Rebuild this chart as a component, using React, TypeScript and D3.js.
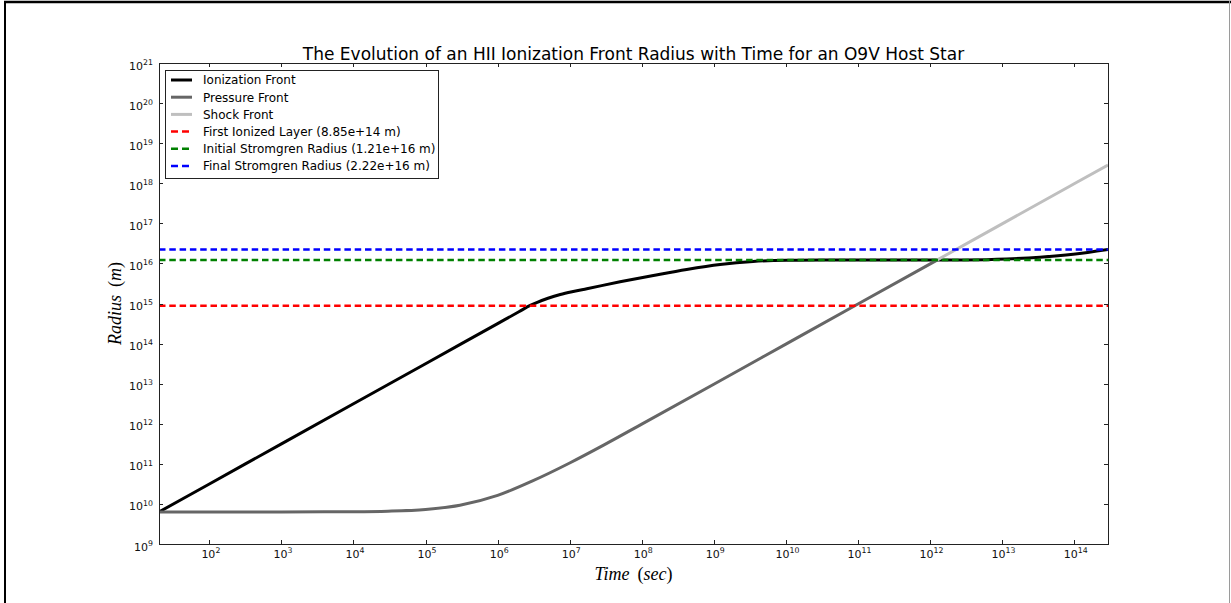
import React, { useEffect, useRef } from 'react';
import * as d3 from 'd3';

const WIDTH = 1231;
const HEIGHT = 603;

const TITLE = 'The Evolution of an HII Ionization Front Radius with Time for an O9V Host Star';

// Ionization front: time (s) and radius (m)
const ionTime = [20, 1e2, 1e3, 1e4, 1e5, 1e6, 2.0e6, 2.83e6, 3.55e6, 5.0e6, 7.4e6, 1.12e7, 1.73e7, 5.0e7, 1.45e8, 4.2e8, 1.22e9, 3.5e9, 1.03e10, 3.2e10, 1e11, 1e12, 3e12, 1.16e13, 3.35e13, 9.7e13, 2.95e14];
const ionRadius = [6.3e9, 3.15e10, 3.15e11, 3.15e12, 3.15e13, 3.15e14, 6.3e14, 8.95e14, 1.07e15, 1.35e15, 1.68e15, 2.0e15, 2.34e15, 3.47e15, 5.0e15, 7.08e15, 9.44e15, 1.122e16, 1.197e16, 1.21e16, 1.21e16, 1.21e16, 1.22e16, 1.29e16, 1.43e16, 1.69e16, 2.22e16];

// Pressure front
const pressureTime = [20, 1e3, 1e4, 3e4, 1e5, 3e5, 1e6, 3e6, 1e7, 3e7, 1e8, 1e9, 1e10, 1e11, 1.25e12];
const pressureRadius = [6.3e9, 6.3e9, 6.4e9, 6.6e9, 7.3e9, 9.3e9, 1.63e10, 3.7e10, 1.05e11, 2.97e11, 9.8e11, 9.7e12, 9.7e13, 9.7e14, 1.21e16];

// Shock front
const shockTime = [1.25e12, 1e13, 1e14, 2.95e14];
const shockRadius = [1.21e16, 9.7e16, 9.7e17, 2.86e18];

// Reference radii
const refLabels = ['First Ionized Layer (8.85e+14 m)', 'Initial Stromgren Radius (1.21e+16 m)', 'Final Stromgren Radius (2.22e+16 m)'];
const refValues = [8.85e14, 1.21e16, 2.22e16];
const refColors = ['#ff0000', '#008000', '#0000ff'];

const seriesLabels = ['Ionization Front', 'Pressure Front', 'Shock Front'];
const seriesColors = ['#000000', '#666666', '#bfbfbf'];

const xTickExponents = [2, 3, 4, 5, 6, 7, 8, 9, 10, 11, 12, 13, 14];
const yTickExponents = [9, 10, 11, 12, 13, 14, 15, 16, 17, 18, 19, 20, 21];

const xDomain = [20, 2.95e14];
const yDomain = [1e9, 1e21];

const PLOT = { left: 159, right: 1108, top: 63, bottom: 544 };
const SANS = '"DejaVu Sans", Verdana, sans-serif';
const SERIF = '"Liberation Serif", "Times New Roman", serif';

export default function App() {
  const ref = useRef<SVGSVGElement>(null);

  useEffect(() => {
    const svg = d3.select(ref.current);
    svg.selectAll('*').remove();

    const x = d3.scaleLog().domain(xDomain).range([PLOT.left, PLOT.right]);
    const y = d3.scaleLog().domain(yDomain).range([PLOT.bottom, PLOT.top]);

    svg.append('rect').attr('width', WIDTH).attr('height', HEIGHT).attr('fill', '#fff');

    // page frame
    svg.append('line').attr('x1', 4).attr('x2', WIDTH).attr('y1', 2).attr('y2', 2)
      .attr('stroke', '#000').attr('stroke-width', 2.5);
    svg.append('line').attr('x1', 5).attr('x2', 5).attr('y1', 1).attr('y2', HEIGHT)
      .attr('stroke', '#000').attr('stroke-width', 2);
    svg.append('line').attr('x1', 1229.5).attr('x2', 1229.5).attr('y1', 1).attr('y2', HEIGHT)
      .attr('stroke', '#9a9a9a').attr('stroke-width', 1);

    // clip for the data area
    svg.append('defs').append('clipPath').attr('id', 'plot-clip')
      .append('rect')
      .attr('x', PLOT.left).attr('y', PLOT.top)
      .attr('width', PLOT.right - PLOT.left).attr('height', PLOT.bottom - PLOT.top);

    const data = svg.append('g').attr('clip-path', 'url(#plot-clip)');

    const line = d3.line<[number, number]>()
      .x((d) => x(d[0]))
      .y((d) => y(d[1]))
      .curve(d3.curveMonotoneX);

    const series: [number, number][][] = [
      ionTime.map((t, i) => [t, ionRadius[i]]),
      pressureTime.map((t, i) => [t, pressureRadius[i]]),
      shockTime.map((t, i) => [t, shockRadius[i]]),
    ];

    series.forEach((pts, i) => {
      data.append('path')
        .attr('d', line(pts))
        .attr('fill', 'none')
        .attr('stroke', seriesColors[i])
        .attr('stroke-width', 3)
        .attr('stroke-linejoin', 'round');
    });

    refValues.forEach((v, i) => {
      data.append('line')
        .attr('x1', PLOT.left).attr('x2', PLOT.right)
        .attr('y1', y(v)).attr('y2', y(v))
        .attr('stroke', refColors[i])
        .attr('stroke-width', 2.5)
        .attr('stroke-dasharray', '6.5,3.8');
    });

    // axes frame
    const axisColor = '#222';
    svg.append('rect')
      .attr('x', PLOT.left + 0.5).attr('y', PLOT.top + 0.5)
      .attr('width', PLOT.right - PLOT.left).attr('height', PLOT.bottom - PLOT.top)
      .attr('fill', 'none').attr('stroke', axisColor).attr('stroke-width', 1);

    const tickLen = 4;
    const ticks = svg.append('g').attr('stroke', axisColor).attr('stroke-width', 1);
    xTickExponents.forEach((e) => {
      const px = Math.round(x(Math.pow(10, e))) + 0.5;
      ticks.append('line').attr('x1', px).attr('x2', px).attr('y1', PLOT.bottom).attr('y2', PLOT.bottom - tickLen);
      ticks.append('line').attr('x1', px).attr('x2', px).attr('y1', PLOT.top).attr('y2', PLOT.top + tickLen);
    });
    yTickExponents.forEach((e) => {
      const py = Math.round(y(Math.pow(10, e))) + 0.5;
      ticks.append('line').attr('x1', PLOT.left).attr('x2', PLOT.left + tickLen).attr('y1', py).attr('y2', py);
      ticks.append('line').attr('x1', PLOT.right).attr('x2', PLOT.right - tickLen).attr('y1', py).attr('y2', py);
    });

    // tick labels as 10^n
    const addPow = (g: any, e: number) => {
      g.append('tspan').text('10');
      g.append('tspan').attr('dy', -4.8).attr('font-size', 7.8).text(String(e));
    };

    xTickExponents.forEach((e) => {
      const t = svg.append('text')
        .attr('x', x(Math.pow(10, e)) + 1.5)
        .attr('y', 558)
        .attr('text-anchor', 'middle')
        .attr('font-family', SANS)
        .attr('font-size', 11)
        .attr('fill', '#111');
      addPow(t, e);
    });

    yTickExponents.forEach((e) => {
      const t = svg.append('text')
        .attr('x', 153)
        .attr('y', y(Math.pow(10, e)) + 6.5)
        .attr('text-anchor', 'end')
        .attr('font-family', SANS)
        .attr('font-size', 11)
        .attr('fill', '#111');
      addPow(t, e);
    });

    // title
    svg.append('text')
      .attr('x', (PLOT.left + PLOT.right) / 2)
      .attr('y', 60)
      .attr('text-anchor', 'middle')
      .attr('font-family', SANS)
      .attr('font-size', 17)
      .attr('fill', '#000')
      .text(TITLE);

    // axis labels (math style: italic letters, upright parentheses)
    const mathLabel = (g: any, word: string, unit: string) => {
      g.append('tspan').attr('font-style', 'italic').text(word);
      g.append('tspan').text('\u2009 (');
      g.append('tspan').attr('font-style', 'italic').text(unit);
      g.append('tspan').text(')');
    };

    const xl = svg.append('text')
      .attr('x', (PLOT.left + PLOT.right) / 2)
      .attr('y', 580)
      .attr('text-anchor', 'middle')
      .attr('font-family', SERIF)
      .attr('font-size', 18)
      .attr('fill', '#000');
    mathLabel(xl, 'Time', 'sec');

    const yl = svg.append('text')
      .attr('transform', `translate(121, ${(PLOT.top + PLOT.bottom) / 2}) rotate(-90)`)
      .attr('text-anchor', 'middle')
      .attr('font-family', SERIF)
      .attr('font-size', 18)
      .attr('fill', '#000');
    mathLabel(yl, 'Radius', 'm');

    // legend
    const legend = svg.append('g');
    legend.append('rect')
      .attr('x', 165.5).attr('y', 70.5)
      .attr('width', 273).attr('height', 108)
      .attr('fill', '#fff').attr('stroke', axisColor).attr('stroke-width', 1);

    const rowY0 = 80;
    const rowStep = 17.2;
    const entries = [
      ...seriesLabels.map((l, i) => ({ label: l, color: seriesColors[i], dashed: false })),
      ...refLabels.map((l, i) => ({ label: l, color: refColors[i], dashed: true })),
    ];
    entries.forEach((en, i) => {
      const cy = rowY0 + i * rowStep;
      legend.append('line')
        .attr('x1', 171).attr('x2', 192)
        .attr('y1', cy).attr('y2', cy)
        .attr('stroke', en.color)
        .attr('stroke-width', en.dashed ? 2.5 : 3)
        .attr('stroke-dasharray', en.dashed ? '7,4' : null);
      legend.append('text')
        .attr('x', 203)
        .attr('y', cy + 4.3)
        .attr('font-family', SANS)
        .attr('font-size', 12)
        .attr('fill', '#000')
        .text(en.label);
    });
  }, []);

  return (
    <svg
      ref={ref}
      width={WIDTH}
      height={HEIGHT}
      style={{ position: 'absolute', left: 0, top: 0, display: 'block' }}
    />
  );
}
